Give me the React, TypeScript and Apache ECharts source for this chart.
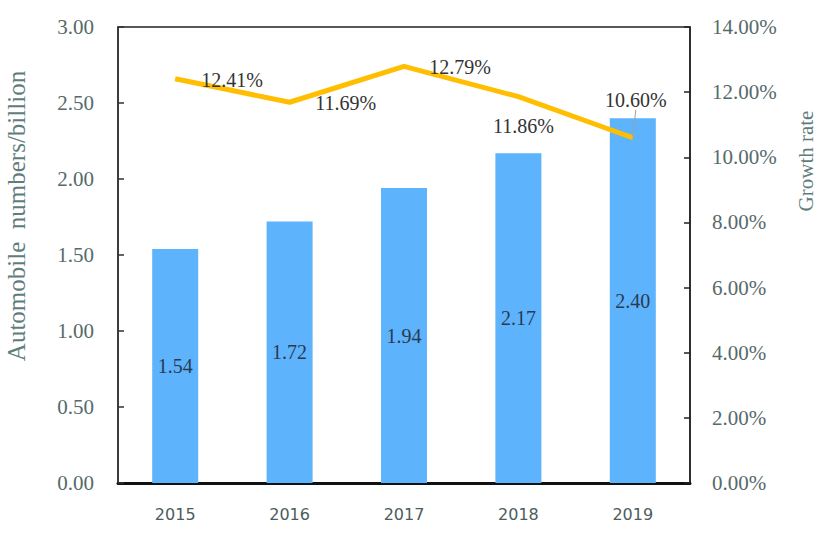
import React, { useEffect, useRef } from "react";
import * as echarts from "echarts";

const years = ["2015", "2016", "2017", "2018", "2019"];
const automobiles = [1.54, 1.72, 1.94, 2.17, 2.4];
const growthRate = [12.41, 11.69, 12.79, 11.86, 10.6];
const leftAxisName = "Automobile  numbers/billion";
const rightAxisName = "Growth rate";

// label offsets (pixels) for the growth-rate labels
const growthLabelShift = [
  [57, 1],
  [56, 1],
  [56, 1],
  [5, 29],
  [3, -38],
];

const SERIF = "'Liberation Serif', 'DejaVu Serif', serif";

export default function App() {
  const ref = useRef<HTMLDivElement>(null);
  useEffect(() => {
    if (!ref.current) return;
    const chart = echarts.init(ref.current, undefined, { renderer: "svg" });
    chart.setOption({
      animation: false,
      backgroundColor: "#ffffff",
      grid: {
        left: 118,
        right: 131,
        top: 27,
        bottom: 51,
        show: true,
        borderColor: "#222",
        borderWidth: 1.5,
        backgroundColor: "transparent",
      },
      xAxis: {
        type: "category",
        data: years,
        axisTick: { show: false },
        axisLine: { lineStyle: { color: "#111", width: 3 } },
        axisLabel: {
          color: "#4d5c5c",
          fontFamily: "'DejaVu Sans', sans-serif",
          fontSize: 16,
          margin: 23,
        },
      },
      yAxis: [
        {
          type: "value",
          min: 0,
          max: 3,
          interval: 0.5,
          splitLine: { show: false },
          axisLine: { show: true, lineStyle: { color: "#333", width: 1.5 } },
          axisTick: { show: true, inside: true, length: 6, lineStyle: { color: "#333", width: 1.5 } },
          axisLabel: {
            color: "#566a6a",
            fontFamily: SERIF,
            fontSize: 21,
            margin: 24,
            formatter: (v: number) => v.toFixed(2),
          },
        },
        {
          type: "value",
          min: 0,
          max: 14,
          interval: 2,
          splitLine: { show: false },
          axisLine: { show: true, lineStyle: { color: "#222", width: 1.5 } },
          axisTick: { show: true, inside: true, length: 6, lineStyle: { color: "#222", width: 1.5 } },
          axisLabel: {
            color: "#566a6a",
            fontFamily: SERIF,
            fontSize: 21,
            margin: 22,
            formatter: (v: number) => v.toFixed(2) + "%",
          },
        },
      ],
      graphic: [
        {
          type: "text",
          x: 16,
          y: 216,
          rotation: Math.PI / 2,
          style: {
            text: leftAxisName,
            fill: "#5f7d7d",
            font: `25px ${SERIF}`,
            align: "center",
            verticalAlign: "middle",
          },
        },
        {
          type: "text",
          x: 806,
          y: 161,
          rotation: Math.PI / 2,
          style: {
            text: rightAxisName,
            fill: "#5f7d7d",
            font: `21px ${SERIF}`,
            align: "center",
            verticalAlign: "middle",
          },
        },
      ],
      series: [
        {
          type: "bar",
          data: automobiles,
          yAxisIndex: 0,
          barWidth: 46,
          itemStyle: { color: "#5db3fc" },
          label: {
            show: true,
            position: "inside",
            color: "#2a3a52",
            fontFamily: SERIF,
            fontSize: 20,
            formatter: (p: any) => p.value.toFixed(2),
          },
        },
        {
          type: "line",
          data: growthRate.map((v, i) => ({
            value: v,
            labelLine: { show: i === 4 },
          })),
          yAxisIndex: 1,
          symbol: "circle",
          symbolSize: 1,
          showSymbol: true,
          lineStyle: { color: "#ffbf00", width: 5 },
          itemStyle: { color: "#ffbf00" },
          label: {
            show: true,
            position: "inside",
            color: "#333",
            fontFamily: SERIF,
            fontSize: 20,
            formatter: (p: any) => p.value.toFixed(2) + "%",
          },
          labelLine: { show: false, smooth: false, lineStyle: { color: "#a0a0a0", width: 1 } },
          labelLayout: (params: any) => {
            const s = growthLabelShift[params.dataIndex];
            return { dx: s[0], dy: s[1] };
          },
        },
      ],
    });
    return () => chart.dispose();
  }, []);
  return <div ref={ref} style={{ width: 821, height: 534, position: "absolute", left: 0, top: 0 }} />;
}
